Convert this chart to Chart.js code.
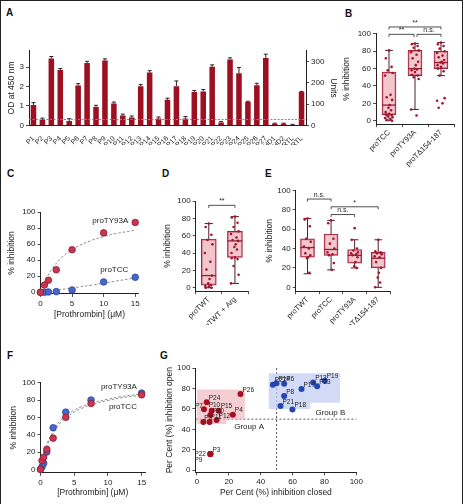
<!DOCTYPE html>
<html>
<head>
<meta charset="utf-8">
<script src="https://cdn.jsdelivr.net/npm/chart.js@4.4.0/dist/chart.umd.min.js"></script>
<style>
  html, body { margin: 0; padding: 0; background: #fff; }
  #fig { position: relative; width: 465px; height: 504px; overflow: hidden; background: #fff; }
  canvas { position: absolute; }
  .lbl { position: absolute; font: bold 10px 'Liberation Sans', Arial, sans-serif; color: #111; line-height: 1; }
  #frame { position: absolute; left: 0; top: 0; width: 463px; height: 510px; border: 1.5px solid #222; box-sizing: border-box; pointer-events: none; }
</style>
</head>
<body>
<div id="fig">
  <div class="lbl" style="left:6px;top:8px">A</div>
  <div class="lbl" style="left:345px;top:9px">B</div>
  <div class="lbl" style="left:7px;top:169px">C</div>
  <div class="lbl" style="left:162px;top:169px">D</div>
  <div class="lbl" style="left:265px;top:169px">E</div>
  <div class="lbl" style="left:7px;top:351px">F</div>
  <div class="lbl" style="left:160px;top:351px">G</div>
  <canvas id="cA" width="345" height="105" style="left:0;top:40px"></canvas>
  <canvas id="cB" width="125" height="155" style="left:340px;top:15px"></canvas>
  <canvas id="cC" width="150" height="130" style="left:0;top:195px"></canvas>
  <canvas id="cD" width="110" height="135" style="left:150px;top:190px"></canvas>
  <canvas id="cE" width="210" height="145" style="left:255px;top:180px"></canvas>
  <canvas id="cF" width="155" height="134" style="left:0;top:370px"></canvas>
  <canvas id="cG" width="215" height="149" style="left:150px;top:355px"></canvas>
  <div id="frame"></div>
</div>
<script>
// ---- panel A: ELISA OD per patient ----
const labelsA = ['P1','P2','P3','P4','P5','P6','P7','P8','P9','P10','P11','P12','P13','P14','P15','P16','P17','P18','P19','P20','P21','P22','P23','P24','P25','P26','P27','HD1','HD2','-CRTL','+CRTL'];
const odA = [1.05, 0.27, 3.45, 2.85, 0.22, 2.05, 3.22, 0.95, 3.35, 1.12, 0.5, 0.4, 2.02, 2.72, 0.35, 1.32, 2.02, 0.35, 1.72, 1.75, 3.02, 0.15, 3.4, 2.68, 1.2, 2.07, 3.47, 0.08, 0.08, 0.03, 1.72];
const errA = [0.12, 0.1, 0.1, 0.08, 0.12, 0.1, 0.08, 0.08, 0.08, 0.08, 0.08, 0.08, 0.08, 0.1, 0.08, 0.08, 0.27, 0.1, 0.08, 0.1, 0.1, 0.05, 0.08, 0.3, 0.04, 0.1, 0.2, 0.03, 0.03, 0.02, 0.03];
const cutoffA = 0.3;
const ticksA = [0, 1, 2, 3];
const unitTicksA = [0, 100, 200, 300];

// ---- panel B ----
const catsB = ['proTCC', 'proTY93A', 'proT\u0394154-187'];
const lowB = [0, 13, 52];
const q1B = [7, 52, 60];
const medB = [18, 60, 67];
const q3B = [56, 81, 80];
const highB = [81, 89, 90];
const ptsB = [
  [81, 72, 62, 58, 55, 52, 30, 27, 24, 18, 15, 12, 10, 8, 7, 6, 5, 4, 3, 2, 1, 0],
  [89, 88, 86, 84, 81, 79, 76, 72, 68, 64, 60, 59, 58, 56, 53, 52, 50, 48, 13, 6],
  [90, 88, 86, 83, 80, 78, 75, 73, 70, 68, 67, 66, 64, 62, 60, 57, 52, 26, 23, 20, 15]
];

// ---- panel C ----
const concC = [0, 0.625, 1.25, 2.5, 5, 10, 15];
const inhC_Y93A = [0, 9, 15, 28, 53, 74, 87];
const inhC_TCC = [0, 0, 0.4, 0.8, 2.9, 12.9, 18.7];
const fitXC = [0, 0.5, 1, 2, 3, 4, 5, 6, 8, 10, 12, 15];
const fitC_Y93A = [0, 10, 18.5, 31, 40.5, 47.6, 53.2, 57.7, 64.5, 69.4, 73.2, 77.3];
const fitC_TCC = [0, 0.5, 1, 2, 3.2, 4.3, 5.4, 6.5, 8.8, 11.3, 14, 18];

// ---- panel D ----
const catsD = ['proTWT', 'proTWT + Arg'];
const lowD = [0, 5];
const q1D = [3, 35];
const medD = [14, 54];
const q3D = [56, 65];
const highD = [74, 82];
const ptsD = [
  [74, 70, 61, 55, 50, 40, 30, 21, 14, 10, 5, 3, 2, 1, 0, 0],
  [82, 81, 75, 70, 65, 62, 58, 55, 54, 50, 47, 44, 40, 35, 34, 33, 25, 15, 5]
];

// ---- panel E ----
const catsE = ['proTWT', 'proTCC', 'proTY93A', 'proT\u0394154-187'];
const lowE = [14, 18, 20, 0];
const q1E = [31, 33, 25, 20];
const medE = [41, 39, 33, 30];
const q3E = [50, 55, 39, 36];
const highE = [71, 69, 49, 49];
const ptsE = [
  [71, 70, 63, 50, 47, 42, 40, 35, 33, 31, 30, 15],
  [69, 66, 50, 45, 40, 36, 34, 33, 25, 18],
  [61, 49, 40, 38, 36, 35, 34, 33, 31, 26, 22, 20],
  [49, 37, 36, 35, 34, 32, 31, 26, 20, 15, 10, 5, 0]
];

// ---- panel F ----
const concF = [0, 0.23, 0.47, 0.94, 1.875, 3.75, 7.5, 15];
const inhF_Y93A = [0, 3, 7, 20, 48, 66, 80, 88];
const inhF_TCC = [0, 10, 14, 23, 36, 60, 76, 86];
const fitXF = [0, 0.5, 1, 2, 3, 4, 5, 6, 8, 10, 12, 15];
const fitF_Y93A = [0, 18, 30, 46, 57, 63.5, 68.5, 72, 77.5, 81, 84, 87];
const fitF_TCC = [0, 16, 28, 43, 54, 61, 66, 70, 75.5, 79.5, 82.5, 85.5];

// ---- panel G ----
const namesGA = ['P26', 'P24', 'P7', 'P10', 'P15', 'P20', 'P4', 'P12', 'P2', 'P11', 'P3', 'P22', 'P9'];
const closedGA = [27.3, 6.1, 4.4, 9.2, 13.6, 8.4, 22.5, 12.3, 4, 7.9, 8.4, 8.4, 8.4];
const openGA = [74.6, 66.4, 59.6, 58.3, 58.3, 54, 54.4, 49.2, 47.2, 47.2, 16, 16, 16];
const namesGB = ['P27', 'P14', 'P6', 'P8', 'P21', 'P18', 'P17', 'P13', 'P23', 'P19'];
const closedGB = [47.6, 49.9, 54.7, 54.7, 52.4, 59.9, 65.6, 72.9, 75.4, 80.2];
const openGB = [83.7, 85, 84.7, 72.6, 62.9, 59.3, 79.5, 85.7, 82.1, 87.6];
const groupA_area = [[0, 79], [30, 79], [30, 50], [18.6, 50], [18.6, 45.3], [0, 45.3]];
const groupB_area = [[45, 94.8], [89.8, 94.8], [89.8, 66], [71, 66], [71, 60], [45, 60]];
const ticksG = [0, 20, 40, 60, 80, 100];
const ticksPct = [0, 20, 40, 60, 80, 100];

// ---- styles ----
const INK = '#222';
const RED_BAR = '#9c1022';
const BOX_FILL = 'rgba(232,160,172,0.6)';
const BOX_EDGE = '#a5223c';
const DOT = '#a3142e';
const WHISK = '#4a2228';
const RED_PT = '#c8364f', RED_EDGE = '#8e1c30';
const BLUE_PT = '#4767cf', BLUE_EDGE = '#2c4299';
const G_RED = '#a3101f', G_BLUE = '#2446b0';
const JIT = [0, -0.12, 0.1, -0.05, 0.14, -0.15, 0.06, -0.09, 0.12, 0.03, -0.02, 0.08, -0.13];
const TITLE_FONT = {family: "'Liberation Sans Narrow', 'Liberation Sans', Arial, sans-serif", size: 8.5};

Chart.defaults.font.family = "'Liberation Sans', Arial, sans-serif";
Chart.defaults.font.size = 8;
Chart.defaults.color = INK;
Chart.defaults.animation = false;
Chart.defaults.responsive = false;
Chart.defaults.plugins.legend.display = false;
Chart.defaults.plugins.tooltip.enabled = false;

const GRID = {display: true, drawOnChartArea: false, drawTicks: true, tickLength: 3, color: INK, lineWidth: 0.8};
const BORDER = {display: true, color: INK, width: 1};

function linAxis(pos, min, max, ticks, size, title, pad) {
  const horiz = pos === 'bottom';
  return {
    type: 'linear', position: pos, min: min, max: max,
    afterBuildTicks: s => { s.ticks = ticks.map(v => ({value: v})); },
    afterFit: s => { if (horiz) s.height = size; else s.width = size; },
    grid: GRID, border: BORDER,
    ticks: {padding: 2, font: {size: 8}, maxRotation: 0},
    title: {display: !!title, text: title, font: TITLE_FONT,
      padding: horiz ? {top: 0, bottom: pad} : {top: pad, bottom: 0}}
  };
}

// ---- plugins ----
const errBars = {
  id: 'errBars',
  afterDatasetsDraw(chart, args, opts) {
    if (!opts.err) return;
    const ctx = chart.ctx, y = chart.scales.y;
    const vals = chart.data.datasets[0].data;
    ctx.save();
    ctx.strokeStyle = '#111'; ctx.lineWidth = 0.9;
    chart.getDatasetMeta(0).data.forEach((bar, i) => {
      const top = y.getPixelForValue(vals[i] + opts.err[i]);
      const base = y.getPixelForValue(vals[i]);
      ctx.beginPath();
      ctx.moveTo(bar.x, base); ctx.lineTo(bar.x, top);
      ctx.moveTo(bar.x - 2, top); ctx.lineTo(bar.x + 2, top);
      ctx.stroke();
    });
    ctx.restore();
  }
};

function drawRefLines(chart, opts, layer) {
  if (!opts.lines) return;
  const ctx = chart.ctx, a = chart.chartArea;
  ctx.save();
  opts.lines.filter(l => (l.layer || 'front') === layer).forEach(l => {
    ctx.strokeStyle = l.color; ctx.lineWidth = l.width || 1; ctx.setLineDash(l.dash || []);
    ctx.beginPath();
    if (l.axis === 'y') {
      const p = chart.scales[l.scale || 'y'].getPixelForValue(l.value);
      ctx.moveTo(a.left, p); ctx.lineTo(a.right, p);
    } else {
      const p = chart.scales.x.getPixelForValue(l.value);
      ctx.moveTo(p, a.top); ctx.lineTo(p, a.bottom);
    }
    ctx.stroke();
  });
  ctx.restore();
}
const refLines = {
  id: 'refLines',
  beforeDatasetsDraw(chart, args, opts) { drawRefLines(chart, opts, 'back'); },
  afterDatasetsDraw(chart, args, opts) { drawRefLines(chart, opts, 'front'); }
};

// whiskers, caps and median of each box, placed with the x/y scales
const boxParts = {
  id: 'boxParts',
  afterDatasetDraw(chart, args, opts) {
    if (!opts.low || args.meta.type !== 'bar') return;
    const ctx = chart.ctx, x = chart.scales.x, y = chart.scales.y;
    const half = args.meta.data[0].width / 2;
    ctx.save();
    opts.low.forEach((lo, i) => {
      const cx = x.getPixelForValue(i);
      const yLo = y.getPixelForValue(lo), yHi = y.getPixelForValue(opts.high[i]);
      const yQ1 = y.getPixelForValue(opts.q1[i]), yQ3 = y.getPixelForValue(opts.q3[i]);
      const yMed = y.getPixelForValue(opts.med[i]);
      ctx.strokeStyle = WHISK; ctx.lineWidth = 1;
      ctx.beginPath();
      ctx.moveTo(cx, yQ3); ctx.lineTo(cx, yHi);
      ctx.moveTo(cx, yQ1); ctx.lineTo(cx, yLo);
      ctx.moveTo(cx - half * 0.55, yHi); ctx.lineTo(cx + half * 0.55, yHi);
      ctx.moveTo(cx - half * 0.55, yLo); ctx.lineTo(cx + half * 0.55, yLo);
      ctx.stroke();
      ctx.strokeStyle = '#9b1b30'; ctx.lineWidth = 1.3;
      ctx.beginPath(); ctx.moveTo(cx - half, yMed); ctx.lineTo(cx + half, yMed); ctx.stroke();
    });
    ctx.restore();
  }
};

const brackets = {
  id: 'brackets',
  afterDraw(chart, args, opts) {
    if (!opts.items) return;
    const ctx = chart.ctx, x = chart.scales.x, y = chart.scales.y;
    ctx.save();
    ctx.strokeStyle = INK; ctx.fillStyle = INK; ctx.lineWidth = 0.8;
    ctx.font = "7px 'Liberation Sans', Arial, sans-serif";
    ctx.textAlign = 'center'; ctx.textBaseline = 'bottom';
    opts.items.forEach(b => {
      const x1 = x.getPixelForValue(b.from) + (b.inL || 0);
      const x2 = x.getPixelForValue(b.to) - (b.inR || 0);
      const yy = y.getPixelForValue(b.y);
      ctx.beginPath();
      ctx.moveTo(x1, yy + 2.5); ctx.lineTo(x1, yy); ctx.lineTo(x2, yy); ctx.lineTo(x2, yy + 2.5);
      ctx.stroke();
      ctx.fillText(b.text, (x1 + x2) / 2, yy - 0.5);
    });
    ctx.restore();
  }
};

const notes = {
  id: 'notes',
  afterDatasetsDraw(chart, args, opts) {
    if (!opts.items) return;
    const ctx = chart.ctx, x = chart.scales.x, y = chart.scales.y;
    ctx.save();
    ctx.fillStyle = INK; ctx.textBaseline = 'middle';
    ctx.font = opts.font || "8px 'Liberation Sans', Arial, sans-serif";
    opts.items.forEach(n => {
      ctx.textAlign = n.align || 'left';
      ctx.fillText(n.text, x.getPixelForValue(n.x), y.getPixelForValue(n.y));
    });
    ctx.restore();
  }
};

const regions = {
  id: 'regions',
  beforeDatasetsDraw(chart, args, opts) {
    if (!opts.shapes) return;
    const ctx = chart.ctx, x = chart.scales.x, y = chart.scales.y;
    ctx.save();
    opts.shapes.forEach(s => {
      ctx.fillStyle = s.color;
      ctx.beginPath();
      s.pts.forEach((p, i) => {
        const px = x.getPixelForValue(p[0]), py = y.getPixelForValue(p[1]);
        if (i === 0) ctx.moveTo(px, py); else ctx.lineTo(px, py);
      });
      ctx.closePath(); ctx.fill();
    });
    ctx.restore();
  }
};

const pointNames = {
  id: 'pointNames',
  afterDatasetsDraw(chart, args, opts) {
    if (!opts.names) return;
    const ctx = chart.ctx;
    ctx.save();
    ctx.fillStyle = INK; ctx.textBaseline = 'middle'; ctx.textAlign = 'left';
    ctx.font = "6.5px 'Liberation Sans', Arial, sans-serif";
    opts.names.forEach((list, di) => {
      const meta = chart.getDatasetMeta(di);
      list.forEach((nm, i) => {
        const off = (opts.offsets && opts.offsets[nm]) || [2, -4];
        const pt = meta.data[i];
        ctx.fillText(nm, pt.x + off[0], pt.y + off[1]);
      });
    });
    ctx.restore();
  }
};

Chart.register(errBars, refLines, boxParts, brackets, notes, regions, pointNames);

// ---- A ----
new Chart(document.getElementById('cA'), {
  type: 'bar',
  data: {
    labels: labelsA,
    datasets: [{data: odA, backgroundColor: RED_BAR, barPercentage: 0.62, categoryPercentage: 1}]
  },
  options: {
    layout: {padding: {top: 10.7, left: 0, right: 0, bottom: 0}},
    plugins: {
      errBars: {err: errA},
      refLines: {lines: [{axis: 'y', value: cutoffA, color: '#7784c6', dash: [2, 1.5], width: 1}]}
    },
    scales: {
      x: {
        afterFit: s => { s.height = 19.7; },
        grid: {display: false}, border: BORDER,
        ticks: {autoSkip: false, maxRotation: 45, minRotation: 45, padding: 1, font: {size: 7}}
      },
      y: linAxis('left', 0, 3.85, ticksA, 29, 'OD at 450 nm', 7),
      y2: linAxis('right', 0, 352, unitTicksA, 39, 'Units', 7)
    }
  }
});

// ---- box plot panels (one linear x axis, category i sits at x = i) ----
function boxChart(id, cats, low, q1, med, q3, high, pts, opt) {
  const boxes = q1.map((v, i) => ({x: i, y: [v, q3[i]]}));
  const dots = [];
  pts.forEach((list, i) => list.forEach((v, k) => dots.push({x: i + JIT[k % JIT.length], y: v})));
  const catTicks = cats.map((c, i) => i);
  return new Chart(document.getElementById(id), {
    type: 'bar',
    data: {
      datasets: [
        {data: boxes, backgroundColor: BOX_FILL, borderColor: BOX_EDGE, borderWidth: 1,
          borderSkipped: false, barThickness: opt.bw, grouped: false, order: 2},
        {type: 'scatter', data: dots, pointRadius: 1.3, backgroundColor: DOT, borderWidth: 0, order: 1}
      ]
    },
    options: {
      layout: {padding: {top: opt.top, right: opt.right, left: 0, bottom: 0}},
      plugins: {
        boxParts: {low: low, q1: q1, med: med, q3: q3, high: high},
        brackets: {items: opt.brackets}
      },
      scales: {
        x: {
          type: 'linear', min: -0.5, max: cats.length - 0.5, offset: false,
          afterBuildTicks: s => { s.ticks = catTicks.map(v => ({value: v})); },
          afterFit: s => { s.height = opt.xh; },
          grid: Object.assign({}, GRID, {offset: true}), border: BORDER,
          ticks: {autoSkip: false, maxRotation: 45, minRotation: 45, padding: 1, font: {size: 7.5},
            callback: v => cats[v]}
        },
        y: linAxis('left', -4, 100, ticksPct, opt.yw, '% inhibition', opt.tpad)
      }
    }
  });
}

boxChart('cB', catsB, lowB, q1B, medB, q3B, highB, ptsB, {
  bw: 14, top: 18.9, right: 11, xh: 45.8, yw: 36, tpad: 1.5,
  brackets: [
    {from: 0, to: 2, y: 108, text: '**'},
    {from: 0, to: 1, y: 99.5, text: '**', inR: 1},
    {from: 1, to: 2, y: 99.5, text: 'n.s.', inL: 2}
  ]
});

boxChart('cD', catsD, lowD, q1D, medD, q3D, highD, ptsD, {
  bw: 15, top: 11, right: 12, xh: 33.8, yw: 45.7, tpad: 13,
  brackets: [{from: 0, to: 1, y: 95, text: '**'}]
});

boxChart('cE', catsE, lowE, q1E, medE, q3E, highE, ptsE, {
  bw: 14, top: 10.3, right: 75, xh: 33.8, yw: 40.7, tpad: 10,
  brackets: [
    {from: 0, to: 1, y: 91, text: 'n.s.'},
    {from: 1, to: 3, y: 83, text: '*'},
    {from: 1, to: 2, y: 75, text: 'n.s.'}
  ]
});

// ---- binding curves (C, F) ----
function pairs(xs, ys) { return xs.map((v, i) => ({x: v, y: ys[i]})); }

function curveChart(id, conc, ya, yb, fitX, fa, fb, opt) {
  const fit = d => ({type: 'line', data: pairs(fitX, d), showLine: true, borderColor: '#8c8c8c',
    borderWidth: 1, borderDash: [2.5, 2], pointRadius: 0, tension: 0.4, fill: false, order: 2});
  return new Chart(document.getElementById(id), {
    type: 'scatter',
    data: {
      datasets: [
        {data: pairs(conc, ya), backgroundColor: opt.colA[0], borderColor: opt.colA[1], borderWidth: 0.8, pointRadius: 3.3, clip: false, order: opt.orderA},
        {data: pairs(conc, yb), backgroundColor: opt.colB[0], borderColor: opt.colB[1], borderWidth: 0.8, pointRadius: 3.3, clip: false, order: opt.orderB},
        fit(fa), fit(fb)
      ]
    },
    options: {
      layout: {padding: {top: opt.top, right: opt.right, left: 0, bottom: 0}},
      plugins: {notes: {items: opt.notes}},
      scales: {
        x: linAxis('bottom', 0, 15.5, [0, 5, 10, 15], opt.xh, '[Prothrombin] (\u03bcM)', opt.xpad),
        y: linAxis('left', opt.ymin, 100, ticksPct, 40.5, '% inhibition', opt.tpad)
      }
    }
  });
}

curveChart('cC', concC, inhC_Y93A, inhC_TCC, fitXC, fitC_Y93A, fitC_TCC, {
  colA: [RED_PT, RED_EDGE], colB: [BLUE_PT, BLUE_EDGE], orderA: 0, orderB: 1,
  top: 17, right: 11.6, xh: 31.1, xpad: 5, ymin: -2, tpad: 7,
  notes: [{x: 13.9, y: 89, text: 'proTY93A', align: 'right'}, {x: 13.9, y: 28, text: 'proTCC', align: 'right'}]
});

curveChart('cF', concF, inhF_Y93A, inhF_TCC, fitXF, fitF_Y93A, fitF_TCC, {
  colA: [BLUE_PT, BLUE_EDGE], colB: [RED_PT, RED_EDGE], orderA: 1, orderB: 0,
  top: 12.7, right: 10, xh: 31.2, xpad: 6.5, ymin: -4, tpad: 9,
  notes: [{x: 14.3, y: 95, text: 'proTY93A', align: 'right'}, {x: 14.3, y: 72, text: 'proTCC', align: 'right'}]
});

// ---- G ----
new Chart(document.getElementById('cG'), {
  type: 'scatter',
  data: {
    datasets: [
      {data: pairs(closedGA, openGA), backgroundColor: G_RED, borderWidth: 0, pointRadius: 3},
      {data: pairs(closedGB, openGB), backgroundColor: G_BLUE, borderWidth: 0, pointRadius: 3}
    ]
  },
  options: {
    layout: {padding: {top: 13, right: 8.3, left: 0, bottom: 0}},
    plugins: {
      regions: {shapes: [
        {pts: groupA_area, color: 'rgba(240,190,196,0.75)'},
        {pts: groupB_area, color: 'rgba(196,206,242,0.75)'}
      ]},
      refLines: {lines: [
        {axis: 'x', value: 50, color: '#333', dash: [2, 2], width: 0.8, layer: 'back'},
        {axis: 'y', value: 50, color: '#333', dash: [2, 2], width: 0.8, layer: 'back'}
      ]},
      pointNames: {
        names: [namesGA, namesGB],
        offsets: {P7: [-9, -3], P10: [-3, -5], P22: [-16, 0], P9: [-16, 6], P2: [1, -4], P11: [1, -5]}
      },
      notes: {items: [
        {x: 32.7, y: 42.6, text: 'Group A', align: 'center'},
        {x: 83.7, y: 56.3, text: 'Group B', align: 'center'}
      ]}
    },
    scales: {
      x: linAxis('bottom', -1, 100, ticksG, 31.7, 'Per Cent (%) inhibition closed', 6.5),
      y: linAxis('left', -2, 100, ticksG, 45.4, 'Per Cent (%) inhibition open', 14.5)
    }
  }
});
</script>
</body>
</html>
